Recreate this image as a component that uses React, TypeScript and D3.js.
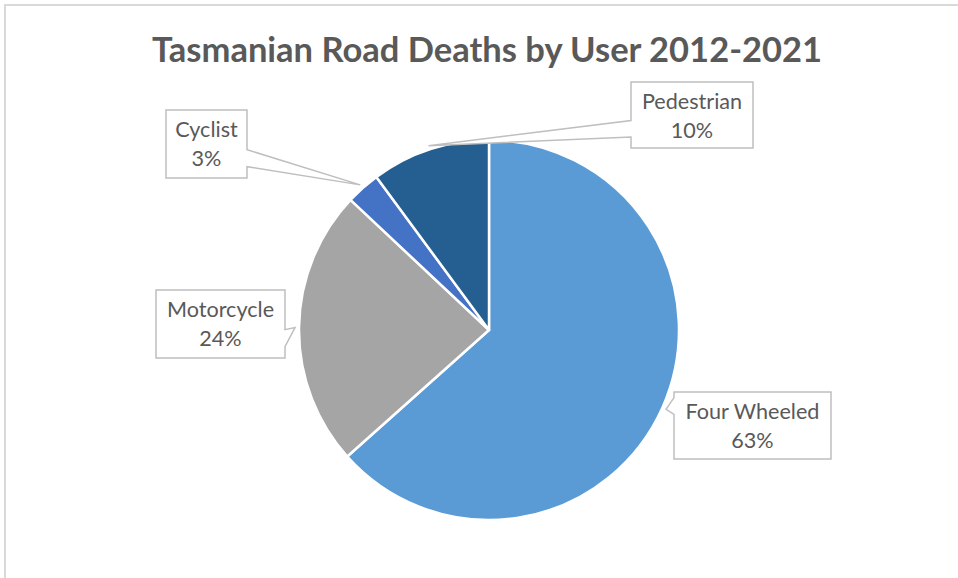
import React from "react";
import * as d3 from "d3";

const categories = ["Four Wheeled", "Motorcycle", "Cyclist", "Pedestrian"];
const shares = [63.4, 23.6, 2.9, 10.1];
const colors = ["#5B9BD5", "#A5A5A5", "#4472C4", "#255E91"];
const title = "Tasmanian Road Deaths by User 2012-2021";

// label box layout (x, y, w, h)
const labelBoxes = [
  { x: 674, y: 392, w: 157, h: 67 },
  { x: 156, y: 290, w: 129, h: 68 },
  { x: 166, y: 110, w: 81, h: 68 },
  { x: 631, y: 82, w: 122, h: 66 },
];

const W = 958;
const H = 578;
const cx = 489;
const cy = 330;
const R = 190;

function calloutPath(b: { x: number; y: number; w: number; h: number }, tx: number, ty: number) {
  const { x, y, w, h } = b;
  const bcy = y + h / 2;
  const left = tx < x;
  const [f1, f2] = ty >= bcy ? [7 / 12, 10 / 12] : [1 / 12, 4 / 12];
  const y1 = y + h * f1;
  const y2 = y + h * f2;
  if (left) {
    return `M${x},${y} L${x + w},${y} L${x + w},${y + h} L${x},${y + h} L${x},${y2} L${tx},${ty} L${x},${y1} Z`;
  }
  return `M${x},${y} L${x + w},${y} L${x + w},${y1} L${tx},${ty} L${x + w},${y2} L${x + w},${y + h} L${x},${y + h} Z`;
}

export default function App() {
  const total = d3.sum(shares);
  const pie = d3.pie<number>().sort(null).value((d) => d)(shares);
  const arc = d3.arc<d3.PieArcDatum<number>>().innerRadius(0).outerRadius(R);
  const font = "Lato, 'Open Sans', sans-serif";

  return (
    <svg
      width={W}
      height={H}
      style={{ position: "fixed", left: 0, top: 0, background: "#fff" }}
    >
      <rect x={0} y={0} width={W} height={H} fill="#fff" />
      <rect x={5} y={5} width={W + 20} height={H + 20} fill="none" stroke="#d9d9d9" strokeWidth={2} />
      <text
        x={487}
        y={62}
        textAnchor="middle"
        fontFamily={font}
        fontWeight={700}
        fontSize={34.5}
        fill="#595959"
      >
        {title}
      </text>
      <g transform={`translate(${cx},${cy})`}>
        {pie.map((p, i) => (
          <path key={i} d={arc(p) || ""} fill={colors[i]} stroke="#fff" strokeWidth={2.5} strokeLinejoin="round" />
        ))}
      </g>
      {pie.map((p, i) => {
        const mid = (p.startAngle + p.endAngle) / 2;
        const tx = cx + (R + 4) * Math.sin(mid);
        const ty = cy - (R + 4) * Math.cos(mid);
        const b = labelBoxes[i];
        const pct = Math.round((shares[i] / total) * 100) + "%";
        return (
          <g key={"l" + i}>
            <path d={calloutPath(b, tx, ty)} fill="#fff" stroke="#bfbfbf" strokeWidth={1.5} />
            <text x={b.x + b.w / 2} y={b.y + 27} textAnchor="middle" fontFamily={font} fontSize={21.6} fill="#595959">
              {categories[i]}
            </text>
            <text x={b.x + b.w / 2} y={b.y + 56} textAnchor="middle" fontFamily={font} fontSize={21.6} fill="#595959">
              {pct}
            </text>
          </g>
        );
      })}
    </svg>
  );
}
